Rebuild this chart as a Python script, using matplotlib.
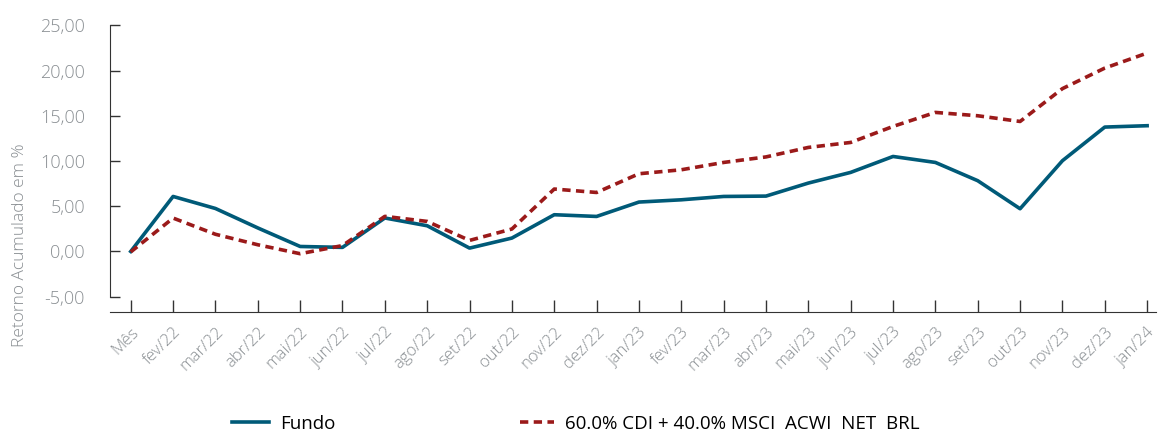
import matplotlib
matplotlib.use("Agg")
import matplotlib.pyplot as plt

# Monthly cumulative returns (%)
months = ["Mês", "fev/22", "mar/22", "abr/22", "mai/22", "jun/22", "jul/22", "ago/22",
          "set/22", "out/22", "nov/22", "dez/22", "jan/23", "fev/23", "mar/23", "abr/23",
          "mai/23", "jun/23", "jul/23", "ago/23", "set/23", "out/23", "nov/23", "dez/23",
          "jan/24"]
fundo = [0.0, 6.08, 4.75, 2.6, 0.55, 0.45, 3.7, 2.84, 0.37, 1.48, 4.06, 3.87, 5.46,
         5.71, 6.08, 6.12, 7.56, 8.74, 10.5, 9.84, 7.82, 4.72, 10.03, 13.75, 13.9]
benchmark = [-0.05, 3.69, 1.9, 0.74, -0.25, 0.65, 3.88, 3.32, 1.22, 2.48, 6.9, 6.52,
             8.59, 9.03, 9.84, 10.45, 11.5, 12.05, 13.82, 15.37, 15.0, 14.37, 18.0,
             20.27, 21.93]
yticks = [-5, 0, 5, 10, 15, 20, 25]

fundo_label = "Fundo"
bench_label = "60.0% CDI + 40.0% MSCI  ACWI  NET  BRL"

plt.rcParams["font.family"] = ["Open Sans", "DejaVu Sans"]

W, H = 1166, 434
fig = plt.figure(figsize=(W / 100, H / 100), dpi=100)
ax = fig.add_axes([110 / W, (H - 311.7) / H, (1155.6 - 110) / W, (311.7 - 25.3) / H])

x = list(range(len(months)))
teal = "#005a78"
red = "#9b1a1a"
gray = "#8a8f93"

l1, = ax.plot(x, fundo, color=teal, lw=2.6, label=fundo_label)
l2, = ax.plot(x, benchmark, color=red, lw=2.6, dashes=(2.3, 1.5), label=bench_label)

ax.set_xlim(-0.49, 24.2)
ax.set_ylim(-6.66, 25)

for s in ["top", "right"]:
    ax.spines[s].set_visible(False)
ax.spines["left"].set_bounds(-5, 25)
ax.spines["left"].set_color("#333333")
ax.spines["bottom"].set_color("#333333")

ax.set_yticks(yticks)
ax.set_yticklabels([f"{v:.2f}".replace(".", ",") for v in yticks])
ax.set_xticks(x)
ax.set_xticklabels(months, rotation=45, ha="right", rotation_mode="anchor")

ax.tick_params(axis="y", direction="in", length=7, width=1, color="#333333",
               labelsize=13, labelcolor=gray, pad=18)
ax.tick_params(axis="x", direction="in", length=8.5, width=1, color="#333333",
               labelsize=12, labelcolor=gray, pad=9)
for t in ax.get_yticklabels() + ax.get_xticklabels():
    t.set_fontweight("light")

fig.text(20 / W, 1 - 245 / H, "Retorno Acumulado em %", rotation=90, ha="center",
         va="center", color=gray, fontsize=12.5, fontweight="light")

# Legend entries placed individually below the plot
for handle, x0, hlen in [(l1, 232, 1.95), (l2, 520, 1.8)]:
    fig.legend(handles=[handle], loc="center left", bbox_to_anchor=(x0 / W, 1 - 424 / H),
               frameon=False, fontsize=13.5, handlelength=hlen, handletextpad=0.6,
               borderpad=0, borderaxespad=0, labelcolor="black")

fig.savefig("out.png", dpi=100)
